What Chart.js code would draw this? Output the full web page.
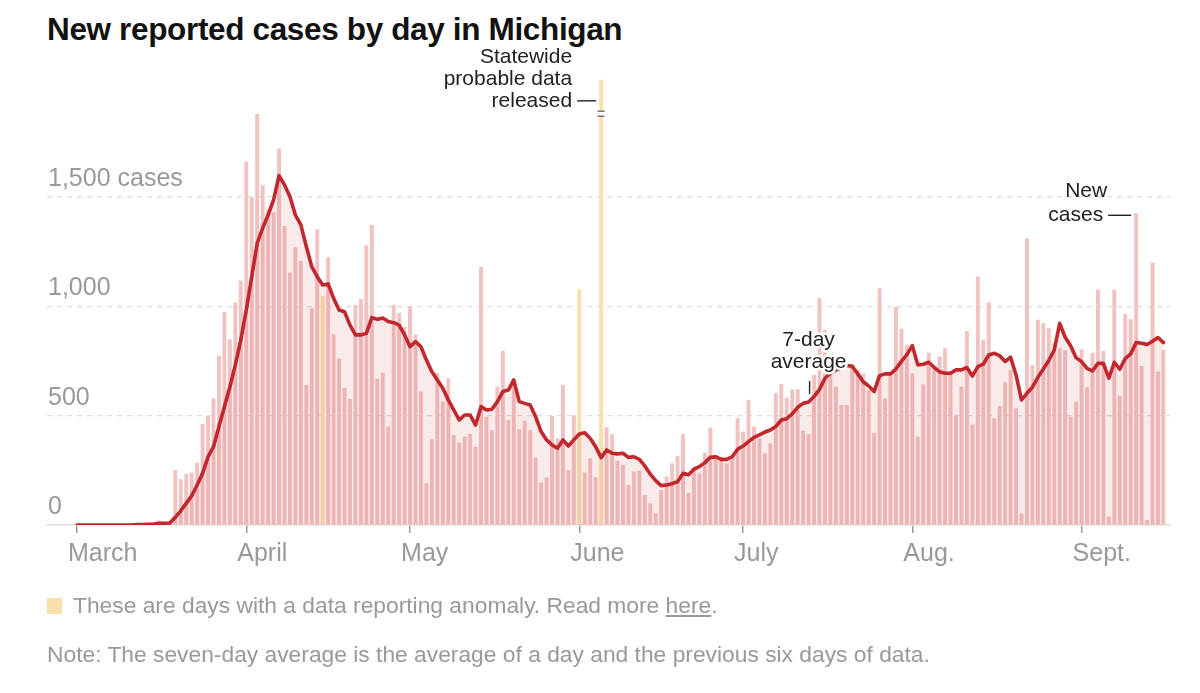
<!DOCTYPE html>
<html><head><meta charset="utf-8">
<script src="https://cdn.jsdelivr.net/npm/chart.js@4/dist/chart.umd.min.js"></script>
<style>
html,body{margin:0;padding:0;background:#fff;}
body{width:1200px;height:693px;position:relative;overflow:hidden;font-family:"Liberation Sans",Arial,sans-serif;}
#title{position:absolute;left:47px;top:11px;font-weight:bold;font-size:31.5px;letter-spacing:-0.35px;color:#121212;white-space:nowrap;}
#chart{position:absolute;left:0;top:0;}
.foot{position:absolute;left:47px;font-size:22.8px;color:#999;white-space:nowrap;}
#legend{top:592px;}
#legend .sw{display:inline-block;width:15px;height:16px;background:#f9dfaa;vertical-align:-1px;margin-right:11px;}
#legend u{text-decoration:underline;}
#note{top:641px;}
</style></head>
<body>
<div id="title">New reported cases by day in Michigan</div>
<canvas id="chart" width="1200" height="693"></canvas>
<div class="foot" id="legend"><span class="sw"></span>These are days with a data reporting anomaly. Read more <u>here</u>.</div>
<div class="foot" id="note">Note: The seven-day average is the average of a day and the previous six days of data.</div>
<script>
// Day index 0 = March 1
const cases = [
0,0,0,0,0,0,0,0,0,2,
0,10,4,8,9,20,12,14,251,209,
233,239,285,462,498,579,774,975,849,1018,
1117,1661,1498,1879,1553,1443,1430,1720,1367,1154,
1270,1207,640,991,1352,1047,1224,872,760,628,
576,1006,1033,1279,1372,669,696,450,1006,969,
905,998,870,610,191,392,695,564,671,411,
378,404,416,358,1181,495,434,632,796,480,
663,437,477,434,308,195,218,498,396,640,
251,501,1078,239,305,218,2035,447,415,294,
274,183,244,248,137,99,53,160,221,282,
316,416,148,259,236,331,445,320,312,282,
312,488,427,572,450,396,328,373,602,645,
582,620,622,431,415,686,1037,892,694,633,
549,549,735,709,691,617,422,1082,579,686,
998,896,823,694,404,643,788,724,770,808,
694,503,633,887,460,1136,846,1017,488,544,
651,709,534,53,1311,732,938,922,899,831,
808,800,495,564,803,630,788,1075,796,38,
1075,591,965,941,1425,727,23,1200,701,800
];
const avg7 = [
0,0,0,0,0,0,0,0,0,0.3,
0.3,1.7,2.3,3.6,4.9,7.7,8.3,9,35,65,
99,133,183,236,312,358,450,541,632,732,
846,983,1135,1288,1357,1417,1486,1597,1555,1501,
1417,1372,1273,1181,1135,1097,1102,1036,983,975,
914,869,869,876,948,940,946,930,925,914,
869,815,838,815,754,701,663,625,572,526,
480,503,503,457,541,526,529,564,610,617,
663,564,556,549,495,427,389,366,351,389,
361,389,416,422,396,358,308,343,328,325,
328,309,312,300,270,233,203,180,183,189,
198,236,230,255,267,285,309,312,300,300,
312,346,361,381,401,412,425,434,450,480,
486,508,538,556,562,587,620,671,694,709,
716,729,726,691,655,636,610,683,691,691,
713,748,779,820,732,735,744,721,700,694,
694,709,709,720,681,724,735,777,785,774,
747,767,686,572,602,630,675,713,752,800,
922,858,819,765,747,716,704,739,739,671,
744,712,761,782,834,831,825,840,857,834
];
const anomalyDays = [45, 92, 96];
const monthTicks = [0, 31, 61, 92, 122, 153, 184];
const monthLabels = ['March', 'April', 'May', 'June', 'July', 'Aug.', 'Sept.'];
const yTickValues = [0, 500, 1000, 1500];
const yTickLabels = ['0', '500', '1,000', '1,500 cases'];
const probableDay = 96;
const newCasesDay = 194;
const avgLabelDay = 134;
const breakValue = 1880;

const FONT = '"Liberation Sans", Arial, sans-serif';
const barColors = cases.map((v, i) => anomalyDays.includes(i) ? '#f9dfaa' : 'rgb(242,194,193)');

const annot = {
  id: 'annot',
  afterDatasetsDraw(chart) {
    const {ctx, scales: {x, y}} = chart;
    ctx.save();
    ctx.font = '21px ' + FONT;
    ctx.textBaseline = 'middle';
    // break mark on the clipped bar
    const px = x.getPixelForValue(probableDay);
    const by = y.getPixelForValue(breakValue);
    ctx.fillStyle = '#fff';
    ctx.fillRect(px - 3.5, by - 2, 7, 4);
    ctx.strokeStyle = '#777';
    ctx.lineWidth = 1.4;
    ctx.beginPath();
    ctx.moveTo(px - 3.5, by - 2.5); ctx.lineTo(px + 3.5, by - 2.5);
    ctx.moveTo(px - 3.5, by + 2.5); ctx.lineTo(px + 3.5, by + 2.5);
    ctx.stroke();
    // Statewide probable data released
    const top = y.getPixelForValue(cases[probableDay]);
    ctx.fillStyle = '#222';
    ctx.strokeStyle = '#222';
    ctx.textAlign = 'right';
    ctx.fillText('Statewide', px - 29, top - 23);
    ctx.fillText('probable data', px - 29, top - 1);
    ctx.fillText('released', px - 29, top + 21);
    ctx.beginPath();
    ctx.moveTo(px - 24, top + 21); ctx.lineTo(px - 5, top + 21);
    ctx.stroke();
    // New cases
    const nx = x.getPixelForValue(newCasesDay);
    const ny = y.getPixelForValue(cases[newCasesDay]);
    ctx.fillText('New', nx - 29, ny - 22);
    ctx.fillText('cases', nx - 33, ny + 2);
    ctx.beginPath();
    ctx.moveTo(nx - 28, ny + 2); ctx.lineTo(nx - 5, ny + 2);
    ctx.stroke();
    // 7-day average
    const ax = x.getPixelForValue(avgLabelDay);
    const ay = y.getPixelForValue(avg7[avgLabelDay]);
    ctx.textAlign = 'center';
    ctx.lineJoin = 'round';
    ctx.strokeStyle = '#fff';
    ctx.lineWidth = 5;
    ctx.strokeText('7-day', ax, ay - 62);
    ctx.strokeText('average', ax, ay - 40);
    ctx.fillText('7-day', ax, ay - 62);
    ctx.fillText('average', ax, ay - 40);
    ctx.strokeStyle = '#222';
    ctx.lineWidth = 1.4;
    ctx.beginPath();
    ctx.moveTo(ax + 1, ay - 21); ctx.lineTo(ax + 1, ay - 8);
    ctx.stroke();
    ctx.restore();
  }
};

new Chart(document.getElementById('chart'), {
  type: 'bar',
  data: {
    datasets: [
      {
        type: 'line',
        data: avg7.map((v, i) => ({x: i, y: v})),
        borderColor: '#c1272d',
        borderWidth: 3.6,
        pointRadius: 0,
        fill: 'origin',
        backgroundColor: 'rgba(210,60,60,0.10)',
        tension: 0,
        borderJoinStyle: 'round',
        borderCapStyle: 'round',
        order: 1
      },
      {
        type: 'bar',
        data: cases.map((v, i) => ({x: i, y: v})),
        backgroundColor: barColors,
        barPercentage: 0.72,
        categoryPercentage: 1,
        order: 2
      }
    ]
  },
  options: {
    responsive: false,
    animation: false,
    devicePixelRatio: 1,
    layout: {padding: {left: 47, right: 30, top: 70, bottom: 123}},
    plugins: {legend: {display: false}, tooltip: {enabled: false}},
    scales: {
      x: {
        type: 'linear', min: -5.5, max: 200.2, offset: false,
        afterBuildTicks: s => { s.ticks = monthTicks.map(v => ({value: v})); },
        afterFit: s => { s.height = 45; },
        grid: {display: true, offset: false, drawOnChartArea: false, drawTicks: true, tickLength: 8, color: '#999', lineWidth: 1.5},
        border: {display: true, color: '#ddd', width: 1.5},
        ticks: {
          autoSkip: false, maxRotation: 0, align: 'start', labelOffset: -9, padding: 6,
          font: {size: 25, family: FONT}, color: '#999',
          callback: v => monthLabels[monthTicks.indexOf(v)]
        }
      },
      y: {
        min: 0, max: 2080,
        afterBuildTicks: s => { s.ticks = yTickValues.map(v => ({value: v})); },
        afterFit: s => { s.width = 0; },
        grid: {color: c => (c.tick && c.tick.value === 0) ? 'rgba(0,0,0,0)' : '#ddd', lineWidth: 1.3, drawTicks: false},
        border: {display: false, dash: [5, 5]},
        ticks: {
          mirror: true, padding: 1, labelOffset: -18,
          font: {size: 25, family: FONT}, color: '#999',
          callback: v => yTickLabels[yTickValues.indexOf(v)]
        }
      }
    }
  },
  plugins: [annot]
});
</script>
</body></html>
